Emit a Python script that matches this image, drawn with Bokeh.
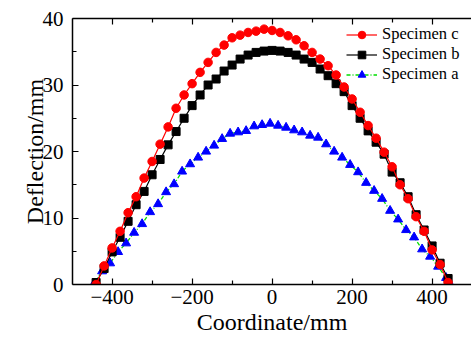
from bokeh.plotting import figure
from bokeh.models import (Range1d, LinearAxis, Legend, LegendItem, ColumnDataSource,
                          FixedTicker, CustomJSTickFormatter)
from bokeh.embed import file_html
from bokeh.resources import INLINE

# ---- data ----
x_cb = [-440, -420, -400, -380, -360, -340, -320, -300, -280, -260, -240, -220, -200,
        -180, -160, -140, -120, -100, -80, -60, -40, -20, 0, 20, 40, 60, 80, 100, 120,
        140, 160, 180, 200, 220, 240, 260, 280, 300, 320, 340, 360, 380, 400, 420, 440]
spec_c = [0.0, 2.8, 5.5, 8.0, 10.8, 13.2, 16.0, 18.5, 21.1, 23.7, 26.5, 28.5, 30.2,
          31.9, 33.4, 34.9, 36.0, 37.1, 37.5, 37.9, 38.1, 38.4, 38.2, 37.9, 37.4, 36.8,
          35.9, 34.9, 33.9, 32.9, 31.5, 29.7, 27.9, 25.9, 23.9, 22.0, 19.9, 17.7, 15.0,
          12.9, 10.2, 8.0, 5.2, 3.0, 0.3]
spec_b = [0.3, 2.4, 4.9, 7.1, 9.5, 12.0, 14.0, 16.5, 18.8, 21.0, 23.0, 25.0, 26.9,
          28.5, 30.0, 30.9, 32.1, 33.0, 33.9, 34.5, 34.9, 35.1, 35.2, 35.1, 34.9, 34.5,
          33.9, 33.4, 32.4, 31.4, 30.2, 29.0, 26.9, 25.0, 23.1, 21.4, 19.6, 16.9, 15.3,
          13.2, 10.5, 8.2, 5.8, 3.2, 0.9]
x_a = [-445, -425, -405, -385, -365, -345, -325, -305, -285, -265, -245, -225, -205,
       -185, -165, -145, -125, -105, -85, -65, -45, -25, -5, 15, 35, 55, 75, 95, 115,
       135, 155, 175, 195, 215, 235, 255, 275, 295, 315, 335, 355, 375, 395, 415, 435, 445]
spec_a = [0.15, 2.0, 3.2, 4.9, 6.2, 7.8, 9.1, 10.9, 12.1, 13.9, 15.1, 17.0, 18.1,
          19.1, 20.0, 20.9, 21.9, 22.7, 22.9, 23.1, 23.8, 24.0, 24.2, 23.9, 23.6, 23.2,
          22.9, 22.4, 22.1, 21.1, 20.0, 19.1, 18.0, 16.9, 15.3, 14.1, 12.9, 11.1, 9.8,
          8.2, 7.1, 5.3, 4.2, 2.7, 1.0, 0.05]
x_ticks = [-400, -200, 0, 200, 400]
x_minor = [-500, -300, -100, 100, 300, 500]
y_ticks = [0, 10, 20, 30, 40]
y_minor = [5, 15, 25, 35]
labels = ["Specimen c", "Specimen b", "Specimen a"]

FONT = "Liberation Serif"

p = figure(width=471, height=343, output_backend="svg", toolbar_location=None,
           x_range=Range1d(-499, 498.5), y_range=Range1d(0, 40),
           min_border_left=72, min_border_right=0, min_border_top=18, min_border_bottom=59,
           x_axis_label="Coordinate/mm", y_axis_label="Deflection/mm")
p.outline_line_color = None
p.grid.visible = False
p.background_fill_color = "white"
p.border_fill_color = "white"

top_axis = LinearAxis(formatter=CustomJSTickFormatter(code="return ''"))
p.add_layout(top_axis, "above")

for ax in p.axis:
    ax.axis_line_width = 1.5
    ax.axis_line_color = "black"
    ax.major_tick_in = 6
    ax.major_tick_out = 0
    ax.minor_tick_in = 4
    ax.minor_tick_out = 0
    ax.major_tick_line_width = 1.2
    ax.minor_tick_line_width = 1.2
    ax.major_tick_line_color = "black"
    ax.minor_tick_line_color = "black"
    ax.major_label_text_font = FONT
    ax.major_label_text_font_size = "21px"
    ax.major_label_text_color = "black"
    ax.axis_label_text_font = FONT
    ax.axis_label_text_font_size = "24px"
    ax.axis_label_text_font_style = "normal"
    ax.axis_label_text_color = "black"

p.xaxis.ticker = FixedTicker(ticks=x_ticks, minor_ticks=x_minor)
p.yaxis.ticker = FixedTicker(ticks=y_ticks, minor_ticks=y_minor)
p.xaxis.major_label_standoff = 5
p.xaxis.axis_label_standoff = 2
p.yaxis.major_label_standoff = 9
p.yaxis.axis_label_standoff = -8
top_axis.major_label_standoff = 0
top_axis.major_label_text_font_size = "1px"
top_axis.axis_label = None

src_c = ColumnDataSource(dict(x=x_cb, y=spec_c))
src_b = ColumnDataSource(dict(x=x_cb, y=spec_b))
src_a = ColumnDataSource(dict(x=x_a, y=spec_a))

la = p.line("x", "y", source=src_a, line_color="#00dd00", line_width=1.3, line_dash="4 2 1 2")
sa = p.scatter("x", "y", source=src_a, marker="triangle", size=9, fill_color="blue", line_color="blue")
lb = p.line("x", "y", source=src_b, line_color="black", line_width=1.2)
sb = p.scatter("x", "y", source=src_b, marker="square", size=8, fill_color="black", line_color="black")
lc = p.line("x", "y", source=src_c, line_color="red", line_width=1.2)
sc = p.scatter("x", "y", source=src_c, marker="circle", size=8.5, fill_color="red", line_color="red")

legend = Legend(items=[
    LegendItem(label=labels[0], renderers=[lc, sc]),
    LegendItem(label=labels[1], renderers=[lb, sb]),
    LegendItem(label=labels[2], renderers=[la, sa]),
], location=(274, 200))
legend.background_fill_alpha = 0
legend.border_line_color = None
legend.padding = 0
legend.margin = 0
legend.spacing = 0
legend.glyph_width = 31
legend.glyph_height = 19
legend.label_height = 19
legend.label_standoff = 5
legend.label_text_font = FONT
legend.label_text_font_size = "16.5px"
legend.label_text_color = "black"
p.add_layout(legend, "center")

open("out.html", "w").write(file_html(p, INLINE))
